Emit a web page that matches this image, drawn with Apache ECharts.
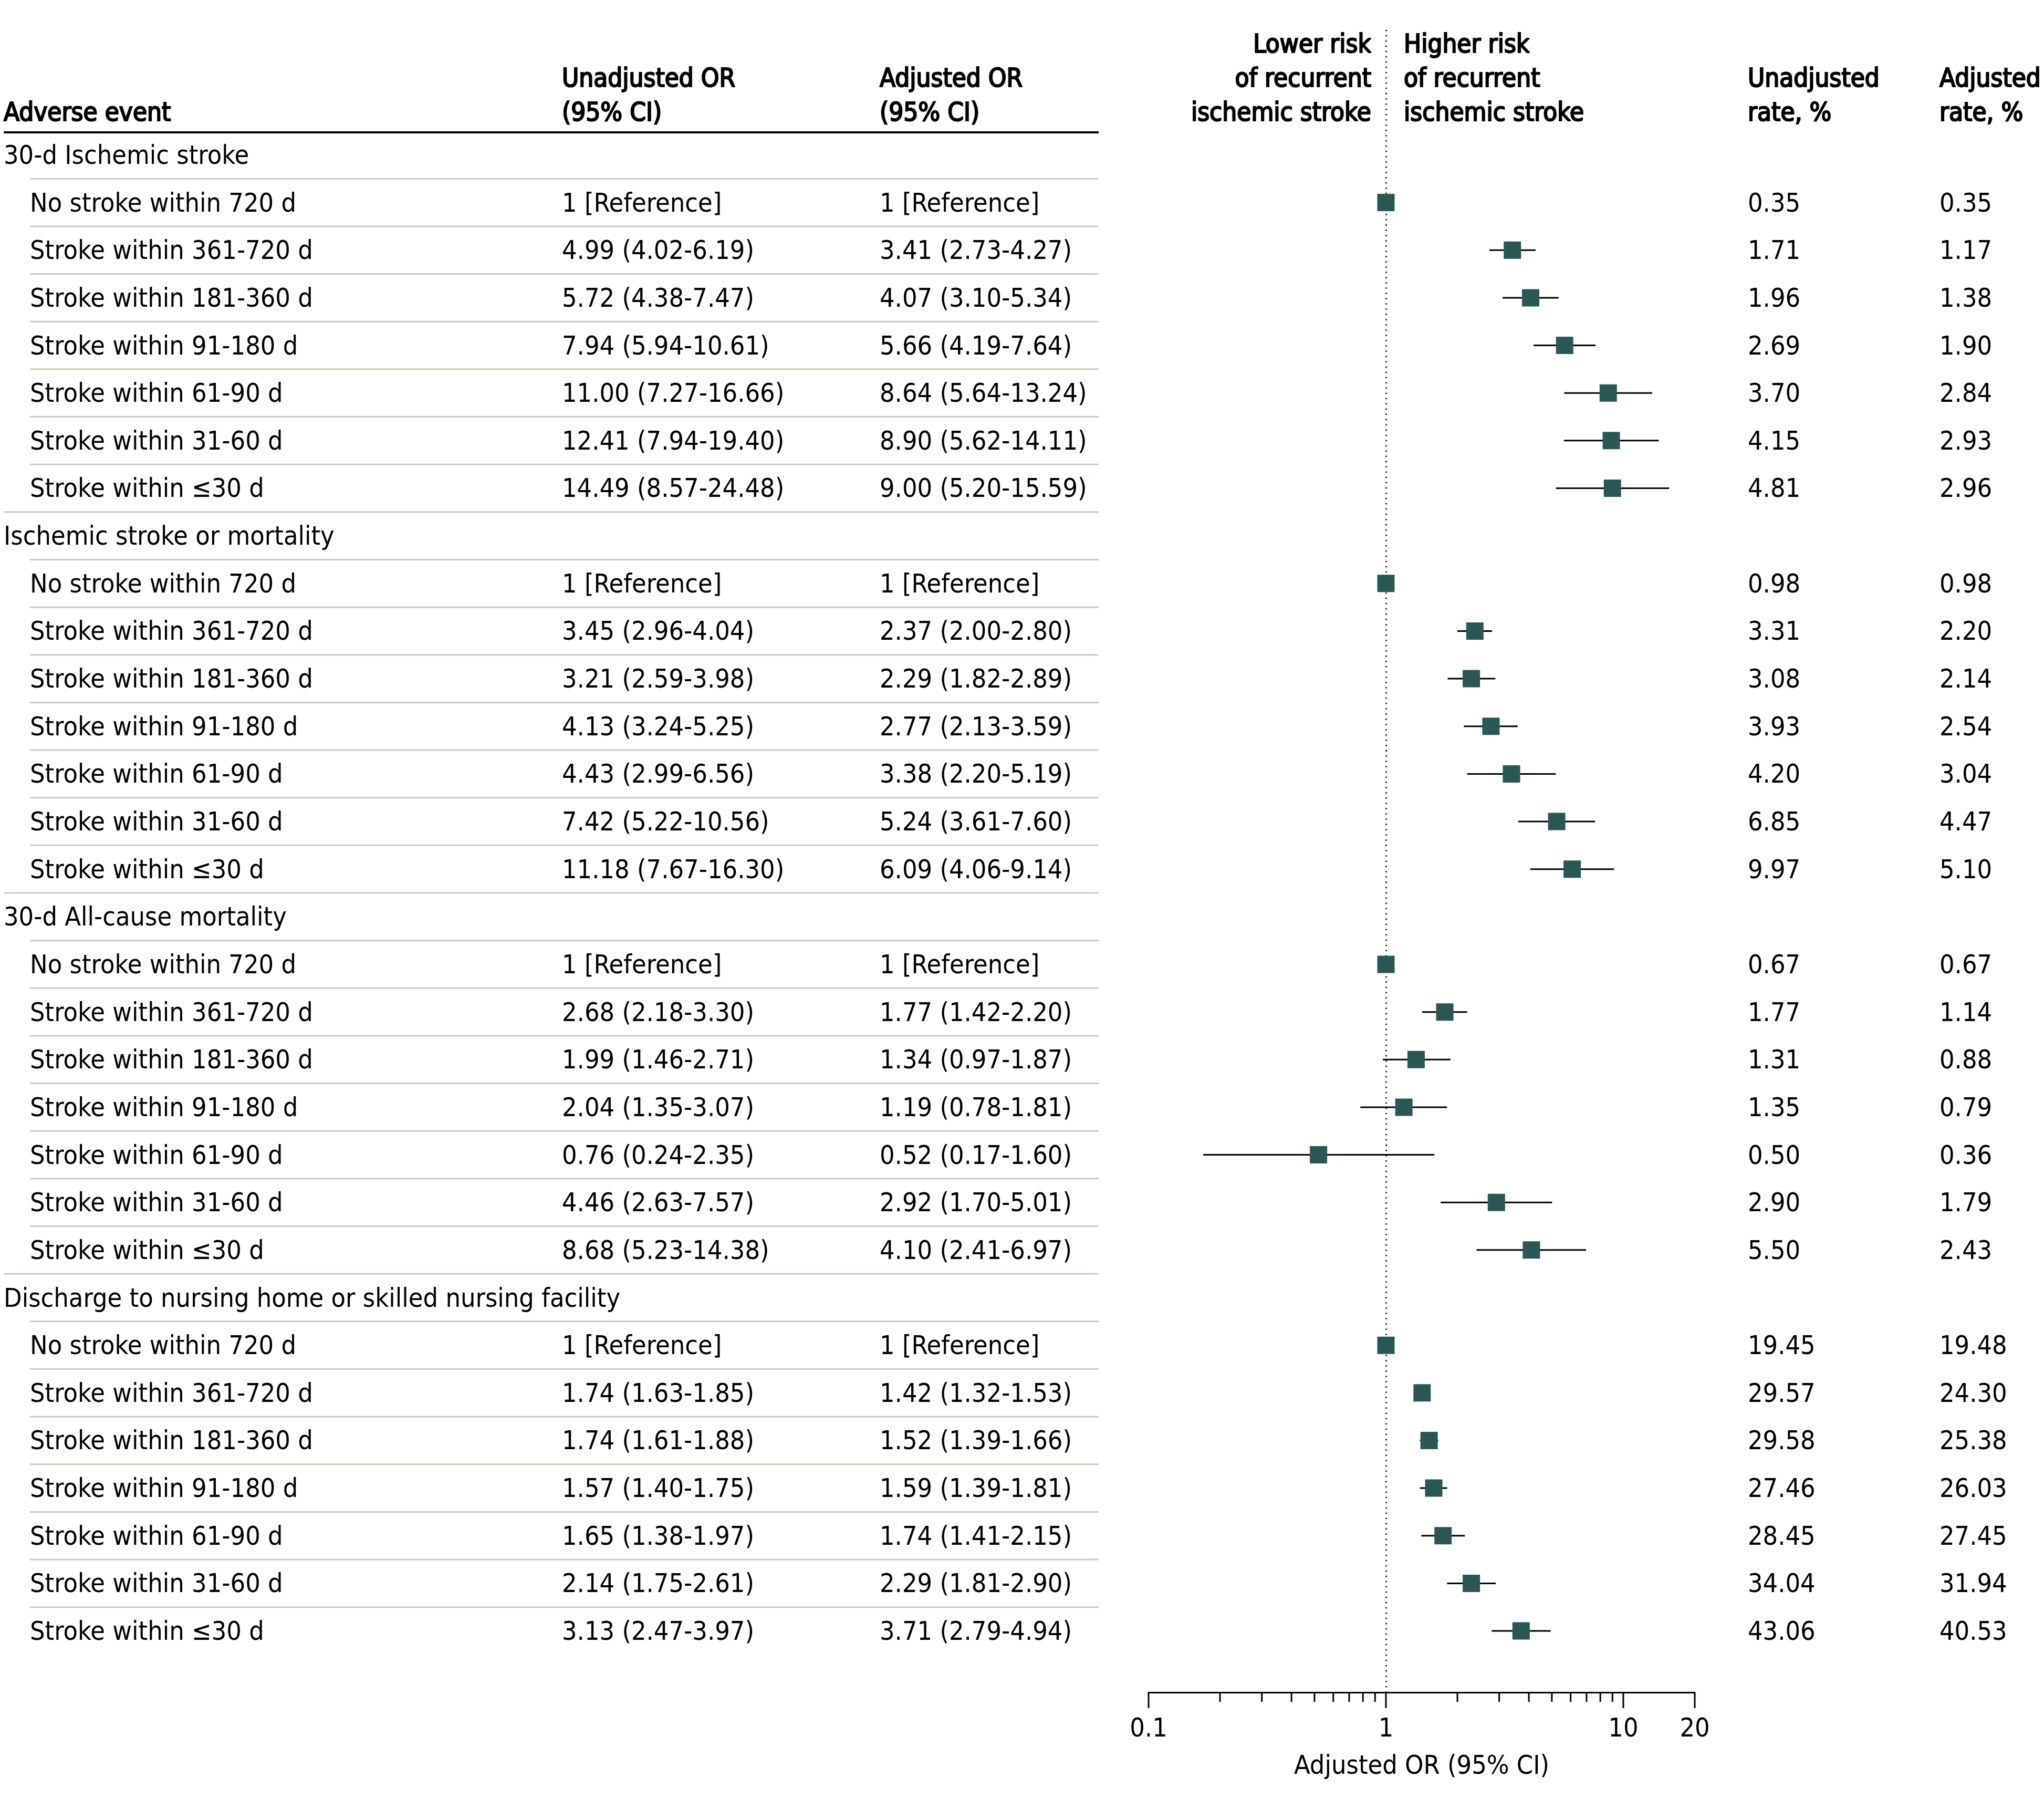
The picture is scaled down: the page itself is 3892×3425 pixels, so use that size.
<!DOCTYPE html>
<html>
<head>
<meta charset="utf-8">
<script src="https://cdn.jsdelivr.net/npm/echarts@6/dist/echarts.min.js"></script>
<style>html,body{margin:0;padding:0;background:#fff}#c{width:3892px;height:3425px}</style>
</head>
<body>
<div id="c"></div>
<script>
// ---------- DATA ----------
const groupNames = [
  '30-d Ischemic stroke',
  'Ischemic stroke or mortality',
  '30-d All-cause mortality',
  'Discharge to nursing home or skilled nursing facility'
];
const subLabels = [
  'No stroke within 720 d',
  'Stroke within 361-720 d',
  'Stroke within 181-360 d',
  'Stroke within 91-180 d',
  'Stroke within 61-90 d',
  'Stroke within 31-60 d',
  'Stroke within \u226430 d'
];
// 4 groups x 7 rows; null = reference row
const unadjOR = [null,4.99,5.72,7.94,11.00,12.41,14.49, null,3.45,3.21,4.13,4.43,7.42,11.18, null,2.68,1.99,2.04,0.76,4.46,8.68, null,1.74,1.74,1.57,1.65,2.14,3.13];
const unadjLo = [null,4.02,4.38,5.94,7.27,7.94,8.57, null,2.96,2.59,3.24,2.99,5.22,7.67, null,2.18,1.46,1.35,0.24,2.63,5.23, null,1.63,1.61,1.40,1.38,1.75,2.47];
const unadjHi = [null,6.19,7.47,10.61,16.66,19.40,24.48, null,4.04,3.98,5.25,6.56,10.56,16.30, null,3.30,2.71,3.07,2.35,7.57,14.38, null,1.85,1.88,1.75,1.97,2.61,3.97];
const adjOR = [1,3.41,4.07,5.66,8.64,8.90,9.00, 1,2.37,2.29,2.77,3.38,5.24,6.09, 1,1.77,1.34,1.19,0.52,2.92,4.10, 1,1.42,1.52,1.59,1.74,2.29,3.71];
const adjLo = [1,2.73,3.10,4.19,5.64,5.62,5.20, 1,2.00,1.82,2.13,2.20,3.61,4.06, 1,1.42,0.97,0.78,0.17,1.70,2.41, 1,1.32,1.39,1.39,1.41,1.81,2.79];
const adjHi = [1,4.27,5.34,7.64,13.24,14.11,15.59, 1,2.80,2.89,3.59,5.19,7.60,9.14, 1,2.20,1.87,1.81,1.60,5.01,6.97, 1,1.53,1.66,1.81,2.15,2.90,4.94];
const isReference = [1,0,0,0,0,0,0, 1,0,0,0,0,0,0, 1,0,0,0,0,0,0, 1,0,0,0,0,0,0];
const unadjRate = [0.35,1.71,1.96,2.69,3.70,4.15,4.81, 0.98,3.31,3.08,3.93,4.20,6.85,9.97, 0.67,1.77,1.31,1.35,0.50,2.90,5.50, 19.45,29.57,29.58,27.46,28.45,34.04,43.06];
const adjRate = [0.35,1.17,1.38,1.90,2.84,2.93,2.96, 0.98,2.20,2.14,2.54,3.04,4.47,5.10, 0.67,1.14,0.88,0.79,0.36,1.79,2.43, 19.48,24.30,25.38,26.03,27.45,31.94,40.53];
const tickValues = [0.1,0.2,0.3,0.4,0.5,0.6,0.7,0.8,0.9,1,2,3,4,5,6,7,8,9,10,20];
const tickLabels = {0.1:'0.1', 1:'1', 10:'10', 20:'20'};
const headers = {
  event: 'Adverse event',
  unadj: ['Unadjusted OR', '(95% CI)'],
  adj: ['Adjusted OR', '(95% CI)'],
  lower: ['Lower risk', 'of recurrent', 'ischemic stroke'],
  higher: ['Higher risk', 'of recurrent', 'ischemic stroke'],
  rateU: ['Unadjusted', 'rate, %'],
  rateA: ['Adjusted', 'rate, %']
};
const axisTitle = 'Adjusted OR (95% CI)';

// ---------- LAYOUT ----------
const FONT = '"DejaVu Sans Condensed", "DejaVu Sans", sans-serif';
const FS = 50;
const X = {group: 7, sub: 57, unadj: 1070, adj: 1675, tableEnd: 2092, rateU: 3328, rateA: 3693, lowerR: 2611, higherL: 2673};
const SEP = '#c8ccbc';
const SQ = '#2b5753';

const rows = [];
groupNames.forEach((g, gi) => {
  rows.push({type: 'group', label: g});
  subLabels.forEach((s, k) => rows.push({type: 'sub', label: s, idx: gi * 7 + k}));
});
const fmt = v => v.toFixed(2);
const orText = (ref, o, l, h) => ref ? '1 [Reference]' : fmt(o) + ' (' + fmt(l) + '-' + fmt(h) + ')';

function txt(s, x, y, align, bold, size) {
  const st = {text: s, x: x, y: y, fill: '#000', fontSize: size || FS, fontFamily: FONT,
    fontWeight: 'normal', textAlign: align || 'left', textVerticalAlign: 'middle',
    align: align || 'left', verticalAlign: 'middle'};
  if (bold) { st.stroke = '#000'; st.lineWidth = 2.2; }
  return {type: 'text', style: st};
}

function renderTable(params, api) {
  const i = api.value(1);
  const r = rows[i];
  const y = api.coord([1, i])[1];
  const ch = [];
  if (r.type === 'group') {
    ch.push(txt(r.label, X.group, y));
  } else {
    const k = r.idx;
    ch.push(txt(r.label, X.sub, y));
    ch.push(txt(orText(isReference[k], unadjOR[k], unadjLo[k], unadjHi[k]), X.unadj, y));
    ch.push(txt(orText(isReference[k], adjOR[k], adjLo[k], adjHi[k]), X.adj, y));
    ch.push(txt(fmt(unadjRate[k]), X.rateU, y));
    ch.push(txt(fmt(adjRate[k]), X.rateA, y));
  }
  if (i < rows.length - 1) {
    const yl = api.coord([1, i + 0.5])[1];
    const x0 = rows[i + 1].type === 'group' ? X.group : X.sub;
    ch.push({type: 'line', shape: {x1: x0, y1: yl, x2: X.tableEnd, y2: yl}, style: {stroke: SEP, lineWidth: 3}});
  }
  return {type: 'group', children: ch};
}

function renderForest(params, api) {
  const row = api.value(3);
  const p = api.coord([api.value(0), row]);
  const pl = api.coord([api.value(1), row]);
  const ph = api.coord([api.value(2), row]);
  const s = 33;
  return {type: 'group', children: [
    {type: 'line', shape: {x1: pl[0], y1: p[1], x2: ph[0], y2: p[1]}, style: {stroke: '#000', lineWidth: 3}},
    {type: 'rect', shape: {x: p[0] - s / 2, y: p[1] - s / 2, width: s, height: s}, style: {fill: SQ}}
  ]};
}

function renderTicks(params, api) {
  const v = api.value(0);
  const cs = params.coordSys;
  const bottom = cs.y + cs.height;
  const x = api.coord([v, 0])[0];
  const major = tickLabels[v] !== undefined;
  const ch = [{type: 'line', shape: {x1: x, y1: bottom, x2: x, y2: bottom + (major ? 30 : 18)}, style: {stroke: '#000', lineWidth: 3}}];
  if (major) ch.push(txt(tickLabels[v], x, bottom + 67, 'center'));
  return {type: 'group', children: ch};
}

const forestData = [];
rows.forEach((r, i) => {
  if (r.type === 'sub') forestData.push([adjOR[r.idx], adjLo[r.idx], adjHi[r.idx], i]);
});

const chart = echarts.init(document.getElementById('c'), null, {renderer: 'svg', width: 3892, height: 3425});

const hdrG = [];
const L = [83, 148, 213];
const HFS = 49;
hdrG.push(txt(headers.event, X.group, L[2], 'left', true, HFS));
headers.unadj.forEach((t, j) => hdrG.push(txt(t, X.unadj, L[j + 1], 'left', true, HFS)));
headers.adj.forEach((t, j) => hdrG.push(txt(t, X.adj, L[j + 1], 'left', true, HFS)));
headers.lower.forEach((t, j) => hdrG.push(txt(t, X.lowerR, L[j], 'right', true, HFS)));
headers.higher.forEach((t, j) => hdrG.push(txt(t, X.higherL, L[j], 'left', true, HFS)));
headers.rateU.forEach((t, j) => hdrG.push(txt(t, X.rateU, L[j + 1], 'left', true, HFS)));
headers.rateA.forEach((t, j) => hdrG.push(txt(t, X.rateA, L[j + 1], 'left', true, HFS)));
hdrG.push({type: 'line', shape: {x1: X.group, y1: 252, x2: X.tableEnd, y2: 252}, style: {stroke: '#000', lineWidth: 4}});

chart.setOption({
  animation: false,
  backgroundColor: '#fff',
  graphic: {elements: hdrG},
  grid: {left: 2187, right: 3892 - 3227, top: 58, bottom: 3425 - 3222, containLabel: false},
  xAxis: {
    type: 'log', logBase: 10, min: 0.1, max: 20,
    axisLine: {show: true, onZero: false, lineStyle: {color: '#000', width: 3}},
    axisTick: {show: false}, axisLabel: {show: false}, splitLine: {show: false},
    name: axisTitle, nameLocation: 'middle', nameGap: 113,
    nameTextStyle: {fontSize: FS, fontFamily: FONT, color: '#000'}
  },
  yAxis: {type: 'value', inverse: true, min: -2.614, max: 32.29, show: false},
  series: [
    {type: 'custom', name: 'table', clip: false, silent: true, renderItem: renderTable,
      data: rows.map((r, i) => [1, i])},
    {type: 'custom', name: 'ticks', clip: false, silent: true, renderItem: renderTicks,
      data: tickValues.map(v => [v, 0])},
    {type: 'custom', name: 'forest', clip: false, silent: true, renderItem: renderForest, data: forestData, z: 5,
      markLine: {silent: true, symbol: ['none', 'none'], label: {show: false},
        lineStyle: {color: '#000', type: [0.01, 10], width: 3, cap: 'round'},
        data: [{xAxis: 1}]}}
  ]
});
</script>
</body>
</html>
